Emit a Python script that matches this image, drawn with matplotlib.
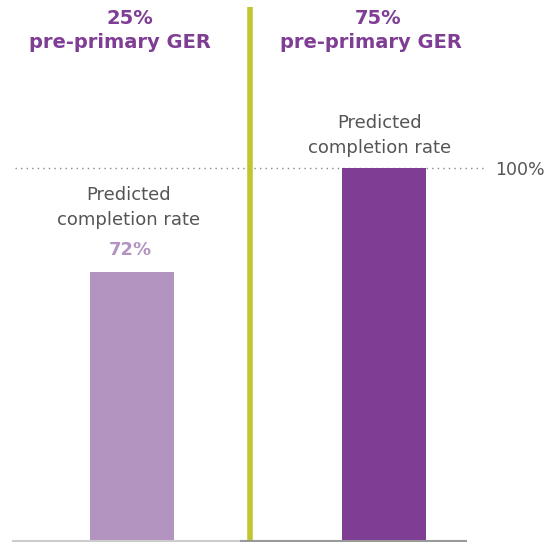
import matplotlib
matplotlib.use("Agg")
import matplotlib.pyplot as plt

group_pct = ["25%", "75%"]
group_name = ["pre-primary GER", "pre-primary GER"]
values = [72, 100]
value_labels = ["72%", ""]
bar_colors = ["#b393c0", "#7f3d94"]
label_lines = ["Predicted", "completion rate"]
ref_value = 100
ref_label = "100%"

plt.rcParams['font.family'] = ['DejaVu Sans']

fig = plt.figure(figsize=(5.48, 5.42), dpi=100)
ax = fig.add_axes([0, 0, 1, 1])
x = [0, 1]
ax.bar(x, values, width=0.333, color=bar_colors, zorder=2)
ax.set_xlim(-0.524, 1.651)
ax.set_ylim(-0.27, 145.0)
ax.axis('off')

def px2x(px):
    return (px - 132) / 252.0

def py2y(py):
    return (541 - py) / 3.73

# baseline
ax.plot([px2x(12), px2x(240)], [0, 0], color="#cccccc", lw=1.5, zorder=3, solid_capstyle='butt')
ax.plot([px2x(240), px2x(467)], [0, 0], color="#999999", lw=1.5, zorder=3, solid_capstyle='butt')
# reference dotted line
ax.plot([px2x(15), px2x(483)], [ref_value, ref_value], color="#888888", lw=1, ls=(0, (1, 3)), zorder=1)
ax.text(px2x(495), py2y(170), ref_label, ha='left', va='center', fontsize=12.5, color="#555555")

# divider
ax.plot([px2x(250), px2x(250)], [0, py2y(7)], color="#c0c530", lw=4, zorder=1, solid_capstyle='butt')

# group titles
for xi, pct, name, c1, c2 in zip(x, group_pct, group_name, [130, 378], [120, 371]):
    ax.text(px2x(c1), py2y(19), pct, ha='center', va='center', fontsize=14,
            fontweight='bold', color="#7f3d94")
    ax.text(px2x(c2), py2y(43), name, ha='center', va='center', fontsize=14,
            fontweight='bold', color="#7f3d94")

# labels above bars
for cx, ys in [(129, [195, 220]), (380, [123, 148])]:
    for line, yy in zip(label_lines, ys):
        ax.text(px2x(cx), py2y(yy), line, ha='center', va='center', fontsize=13, color="#555555")
ax.text(px2x(130), py2y(250), value_labels[0], ha='center', va='center', fontsize=13,
        fontweight='bold', color=bar_colors[0])

fig.savefig("out.png", dpi=100)
